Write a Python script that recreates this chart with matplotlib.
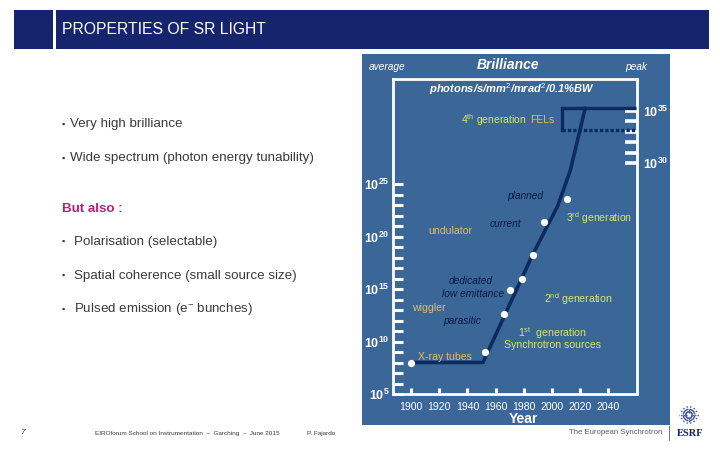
import matplotlib
matplotlib.use('Agg')
import matplotlib.pyplot as plt
import numpy as np
from matplotlib.patches import Rectangle
from matplotlib.lines import Line2D
from matplotlib.ticker import NullLocator

plt.rcParams['font.family'] = ['Liberation Sans', 'DejaVu Sans']
plt.rcParams['mathtext.fontset'] = 'custom'
plt.rcParams['mathtext.rm'] = 'Liberation Sans'
plt.rcParams['mathtext.it'] = 'Liberation Sans:italic'
plt.rcParams['mathtext.bf'] = 'Liberation Sans:bold'

# ---------------- data ----------------
curve_years = [1900, 1951, 1986, 2004, 2013, 2023.5]
curve_log_brilliance = [8.0, 8.0, 18.2, 22.9, 26.3, 32.2]
source_years = [1900, 1952.7, 1966.3, 1970.4, 1978.4, 1986.5, 1994.5, 2010.6]
source_log_brilliance = [8.0, 9.0, 12.6, 14.9, 16.0, 18.2, 21.4, 23.6]
fel_years = [2007, 2059.3]
fel_log_peak = [33.1, 35.25]
year_ticks = [1900, 1920, 1940, 1960, 1980, 2000, 2020, 2040]
avg_tick_exps = list(range(5, 26))
avg_label_exps = [5, 10, 15, 20, 25]
peak_tick_exps = list(range(30, 36))
peak_label_exps = [30, 35]
avg_range_exp = [5, 35]
peak_offset_exp = 3
year_range = [1887.2, 2060.3]

bullets_top = ['Very high brilliance', 'Wide spectrum (photon energy tunability)']
bullets_bottom = ['Polarisation (selectable)', 'Spatial coherence (small source size)',
                  'Pulsed emission (e$^{-}$ bunches)']

# ---------------- styling ----------------
W, H = 720, 450
NAVY = '#16246e'
PANEL = '#3b6798'
LINE = '#0c2b5f'
YG = '#d9e65c'
KHAKI = '#dcbd68'
LABNAVY = '#0b1942'
GREY = '#3a3a3a'

fig = plt.figure(figsize=(7.2, 4.5), dpi=100)
fig.patch.set_facecolor('white')

def fx(x):
    return x / W

def fy(y):
    return 1 - y / H

def frect(x0, y0, x1, y1, color, z=0):
    fig.add_artist(Rectangle((fx(x0), fy(y1)), fx(x1) - fx(x0), fy(y0) - fy(y1),
                             transform=fig.transFigure, facecolor=color,
                             edgecolor='none', zorder=z))

def ftext(x, y, s, **kw):
    kw.setdefault('ha', 'left')
    kw.setdefault('va', 'center')
    fig.text(fx(x), fy(y), s, **kw)

# header band
frect(14, 10, 53, 49, NAVY)
frect(56, 10, 709, 49, NAVY)
ftext(62, 29.5, 'PROPERTIES OF SR LIGHT', color='white', fontsize=11.3)

# left text
for s, y in zip(bullets_top, [124.3, 158.3]):
    ftext(61, y, '▪', color=GREY, fontsize=6.5)
    ftext(69.5, y, s, color=GREY, fontsize=9.6)
ftext(61.5, 209, 'But also :', color='#c8197a', fontsize=9.6, fontweight='bold')
for s, y in zip(bullets_bottom, [241.7, 275.7, 309.3]):
    ftext(61, y, '▪', color=GREY, fontsize=6.5)
    ftext(74, y, s, color=GREY, fontsize=9.6)

# chart panel
frect(362, 54, 670, 425, PANEL)

ax = fig.add_axes([fx(393), fy(394), (637 - 393) / W, (394 - 79) / H])
ax.set_facecolor('none')
ax.set_yscale('log')
ax.set_xlim(*year_range)
ax.set_ylim(10.0 ** avg_range_exp[0], 10.0 ** avg_range_exp[1])
for sp in ax.spines.values():
    sp.set_color('white')
    sp.set_linewidth(2.0)

ax.set_yticks([10.0 ** k for k in avg_tick_exps])
ax.set_yticklabels([r'$\mathbf{10^{%d}}$' % k if k in avg_label_exps else ''
                    for k in avg_tick_exps])
ax.yaxis.set_minor_locator(NullLocator())
ax.tick_params(axis='y', direction='in', length=7.5, width=2.2, color='white',
               labelcolor='white', labelsize=9, pad=2.5)
ax.set_xticks(year_ticks)
ax.set_xticklabels([str(y) for y in year_ticks])
ax.tick_params(axis='x', direction='in', length=4, width=2.2, color='white',
               labelcolor='white', labelsize=7.6, pad=6)

ax2 = ax.twinx()
ax2.set_yscale('log')
ax2.set_ylim(10.0 ** (avg_range_exp[0] + peak_offset_exp),
             10.0 ** (avg_range_exp[1] + peak_offset_exp))
ax2.set_yticks([10.0 ** k for k in peak_tick_exps])
ax2.set_yticklabels([r'$\mathbf{10^{%d}}$' % k if k in peak_label_exps else ''
                     for k in peak_tick_exps])
ax2.yaxis.set_minor_locator(NullLocator())
ax2.tick_params(axis='y', direction='in', length=8.5, width=2.6, color='white',
                labelcolor='white', labelsize=9, pad=4)
for sp in ax2.spines.values():
    sp.set_visible(False)

# main curve and points
ax.plot(curve_years, 10.0 ** np.array(curve_log_brilliance), color=LINE, lw=2.6,
        solid_joinstyle='round', zorder=3)
ax.plot(source_years, 10.0 ** np.array(source_log_brilliance), 'o', color='white',
        ms=5.2, mec='none', zorder=4)

# FEL box (peak scale)
fel_lo, fel_hi = 10.0 ** fel_log_peak[0], 10.0 ** fel_log_peak[1]
ax2.plot(fel_years, [fel_hi, fel_hi], color=LINE, lw=2.4, solid_capstyle='butt')
ax2.plot([fel_years[0], fel_years[0]], [fel_lo, fel_hi], color=LINE, lw=2.4)
ax2.plot(fel_years, [fel_lo, fel_lo], color=LINE, lw=2.4, ls=(0, (1, 0.6)))

# chart texts
ftext(387, 67, 'average', ha='center', color='white', fontsize=7.3, style='italic')
ftext(508, 65, 'Brilliance', ha='center', color='white', fontsize=10,
      style='italic', fontweight='bold')
ftext(636, 67, 'peak', ha='center', color='white', fontsize=7.3, style='italic')
ftext(512, 89, r'photons/s/mm$^{2}$/mrad$^{2}$/0.1%BW', ha='center', color='white',
      fontsize=8, style='italic', fontweight='bold')
ftext(527, 120, r'4$^{\mathrm{th}}$ generation', ha='right', color=YG, fontsize=7.5)
ftext(530, 120, 'FELs', ha='left', color=KHAKI, fontsize=7.5)
ftext(525, 196, 'planned', ha='center', color=LABNAVY, fontsize=7.3, style='italic')
ftext(505, 224, 'current', ha='center', color=LABNAVY, fontsize=7.3, style='italic')
ftext(566, 218, r'3$^{\mathrm{rd}}$ generation', ha='left', color=YG, fontsize=7.5)
ftext(450, 231, 'undulator', ha='center', color=KHAKI, fontsize=7.6)
ftext(471, 281.5, 'dedicated', ha='center', color=LABNAVY, fontsize=7.3, style='italic')
ftext(473, 294, 'low emittance', ha='center', color=LABNAVY, fontsize=7.3, style='italic')
ftext(578, 299, r'2$^{\mathrm{nd}}$ generation', ha='center', color=YG, fontsize=7.6)
ftext(429, 308, 'wiggler', ha='center', color=KHAKI, fontsize=7.6)
ftext(462, 321, 'parasitic', ha='center', color=LABNAVY, fontsize=7.3, style='italic')
ftext(552, 333, r'1$^{\mathrm{st}}$  generation', ha='center', color=YG, fontsize=7.6)
ftext(552, 345, 'Synchrotron sources', ha='center', color=YG, fontsize=7.6)
ftext(445, 357, 'X-ray tubes', ha='center', color=KHAKI, fontsize=7.6)
ftext(523, 419, 'Year', ha='center', color='white', fontsize=10, fontweight='bold')

# footer
ftext(20, 433, '7', color=GREY, fontsize=6, style='italic')
ftext(95, 433, 'EIROforum School on Instrumentation  \u2013  Garching  \u2013  June 2015',
      color=GREY, fontsize=4.6)
ftext(307, 433, 'P. Fajardo', color=GREY, fontsize=4.6)
ftext(662, 433, 'The European Synchrotron', ha='right', color='#555a70', fontsize=5.6)
fig.add_artist(Line2D([fx(668.5), fx(668.5)], [fy(426), fy(440)],
                      transform=fig.transFigure, color='#555a70', lw=0.6))
ftext(690, 433, 'ESRF', ha='center', color=NAVY, fontsize=7.5, fontweight='bold',
      family='Liberation Serif')
# ESRF starburst logo
cx, cy = 689, 415
for i in range(28):
    a = 2 * np.pi * i / 28
    r0, r1 = 2.5, (10.0 if i % 2 == 0 else 7.5)
    fig.add_artist(Line2D([fx(cx + r0 * np.cos(a)), fx(cx + r1 * np.cos(a))],
                          [fy(cy + r0 * np.sin(a)), fy(cy + r1 * np.sin(a))],
                          transform=fig.transFigure, color='#3a4f9a', lw=1.0,
                          ls=(0, (1, 0.8))))

fig.savefig('out.png', dpi=100, facecolor='white')
